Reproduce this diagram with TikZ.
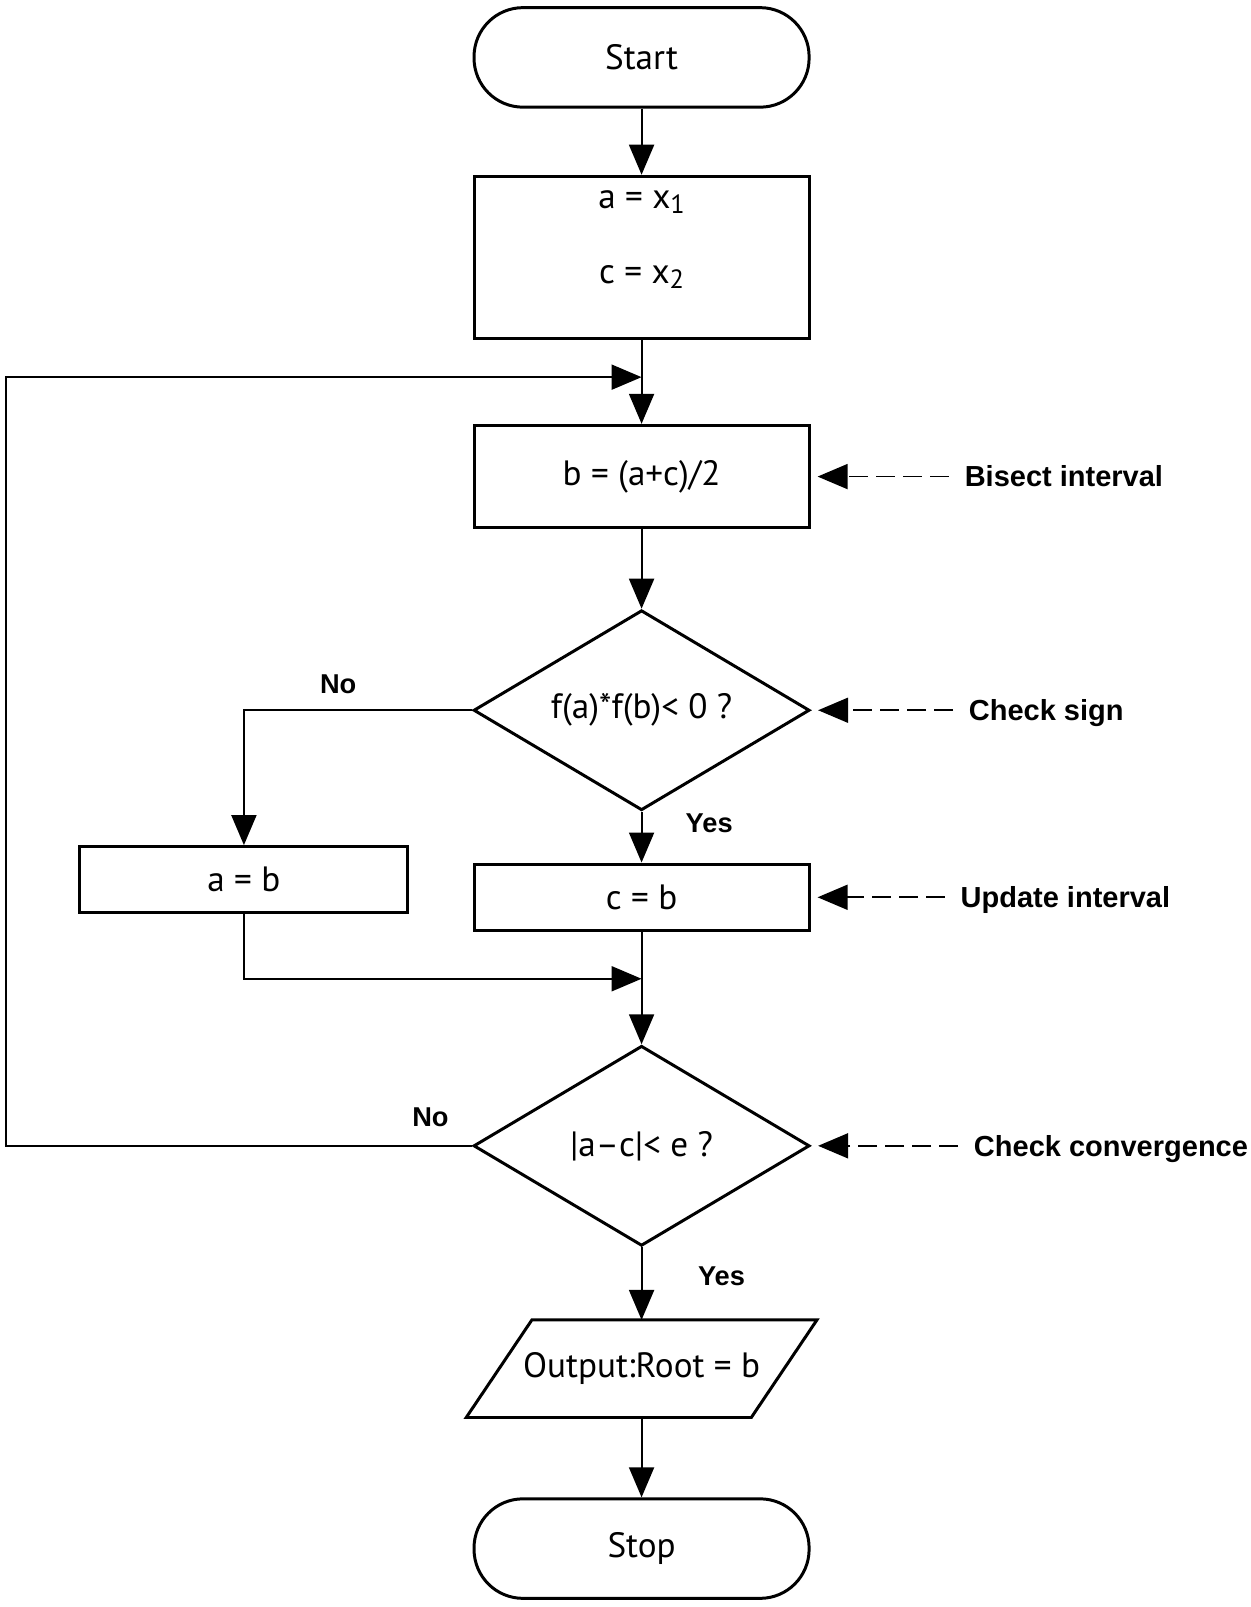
\documentclass[tikz,border=0pt]{standalone}
\usepackage{fontspec}
\setmainfont{PT Sans}
\newfontfamily\arialfont{Liberation Sans}
\usetikzlibrary{arrows.meta,shapes.geometric}
\begin{document}
\begin{tikzpicture}[x=0.0205cm,y=-0.0205cm,
  every node/.style={inner sep=0pt},
  txt/.style={font=\fontsize{20}{24}\selectfont},
  shapebox/.style={draw, line width=1.7pt, txt},
  proc/.style={shapebox, rectangle, minimum width=6.70cm},
  term/.style={shapebox, rectangle, rounded corners=0.98cm, minimum width=6.70cm, minimum height=1.99cm},
  decision/.style={shapebox, diamond, aspect=1.7, minimum width=6.72cm, minimum height=4.0cm},
  flow/.style={line width=1.1pt, -{Triangle[length=0.6cm,width=0.5cm]}},
  annot/.style={line width=1pt, dash pattern=on 0.38cm off 0.16cm, -{Triangle[length=0.6cm,width=0.5cm]}, shorten <=0.31cm, shorten >=0.14cm},
  note/.style={font=\arialfont\bfseries\fontsize{16.5}{19}\selectfont, anchor=west, text height=11.8pt, text depth=0pt},
  yn/.style={font=\arialfont\bfseries\fontsize{15.5}{18}\selectfont}
]
\fill[white] (0,0) rectangle (1220,1568);
\useasboundingbox (0,0) rectangle (1220,1568);

% main nodes
\node[term] (start) at (626,56) {Start};
\node[proc, minimum height=3.24cm] (init) at (626,251) {};
\node[align=center, font=\fontsize{20}{42.6}\selectfont] (initText) at (626,234)
  {a = x\raisebox{-3pt}{\fontsize{15}{16}\selectfont 1}\\c = x\raisebox{-3pt}{\fontsize{15}{16}\selectfont 2}};
\node[proc, minimum height=2.05cm] (bis) at (626,465) {b = (a+c)/2};
\node[decision] (d1) at (626,693) {f(a)*f(b)< 0 ?};
\node[proc, minimum width=6.56cm, minimum height=1.31cm] (ab) at (238,858) {a = b};
\node[proc, minimum height=1.33cm] (cb) at (626,875.5) {c = b};
\node[decision] (d2) at (626,1118) {|a–c|< e ?};
\node[txt, minimum width=5.70cm, minimum height=1.95cm, outer sep=0pt] (out) at (626,1335.5) {Output:Root = b};
\draw[line width=1.7pt, line join=miter]
  ([xshift=-0.656cm]out.south west) -- ([xshift=0.656cm]out.north west) --
  ([xshift=0.656cm]out.north east) -- ([xshift=-0.656cm]out.south east) -- cycle;
\node[term] (stop) at (626,1511) {Stop};

% junction points
\coordinate (j1) at (626,368);
\coordinate (j2) at (626,955);
\coordinate (lb) at (6,1118);
\coordinate (lt) at (6,368);

% connectors
\draw[flow] (start) -- (init);
\draw[flow] (init) -- (bis);
\draw[flow] (d2.west) -- (lb) -- (lt) -- (j1);
\draw[flow] (bis) -- (d1);
\draw[flow] (d1.west) -| (ab.north);
\draw[flow] (d1.south) -- (cb.north);
\draw[flow] (ab.south) |- (j2);
\draw[flow] (cb) -- (d2);
\draw[flow] (d2) -- (out);
\draw[flow] (out) -- (stop);

% branch labels
\node[yn] (no1) at (330,668) {No};
\node[yn] (yes1) at (692,803) {Yes};
\node[yn] (no2) at (420,1090) {No};
\node[yn] (yes2) at (704,1245) {Yes};

% annotations
\node[note] (n1) at (941,465) {Bisect interval};
\node[note] (n2) at (945,693) {Check sign};
\node[note] (n3) at (937,875.5) {Update interval};
\node[note] (n4) at (950,1118) {Check convergence};
\draw[annot] (n1.west) -- (n1.west -| bis.east);
\draw[annot] (n2.west) -- (n2.west -| d1.east);
\draw[annot] (n3.west) -- (n3.west -| cb.east);
\draw[annot] (n4.west) -- (n4.west -| d2.east);
\end{tikzpicture}
\end{document}
